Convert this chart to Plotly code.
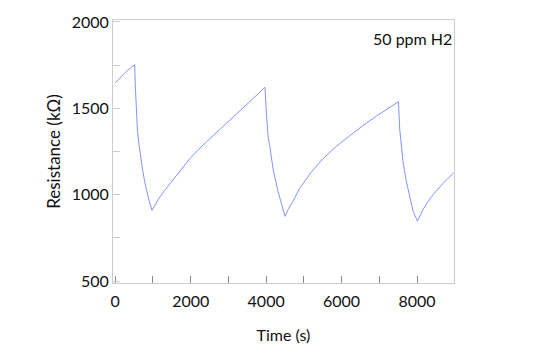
import plotly.graph_objects as go

time_s = [0, 130, 260, 390, 514,
          533, 560, 586, 621, 666, 719, 780, 867, 973,
          1050, 1150, 1250, 1355, 1500, 1700, 1973, 2300, 2681, 3000, 3299, 3640, 3970,
          4006, 4050, 4094, 4182, 4315, 4500,
          4600, 4712, 4890, 5200, 5508, 5863, 6215, 6569, 6924, 7220, 7507,
          7541, 7587, 7629, 7719, 7806, 7894, 8011,
          8080, 8160, 8290, 8425, 8690, 8974]
resistance = [1648, 1678, 1706, 1731, 1752,
              1625, 1473, 1378, 1303, 1227, 1151, 1076, 990, 909,
              941, 976, 1008, 1037, 1080, 1133, 1208, 1282, 1360, 1422, 1483, 1553, 1621,
              1473, 1341, 1284, 1151, 1019, 875,
              922, 962, 1037, 1132, 1208, 1280, 1341, 1401, 1455, 1498, 1538,
              1378, 1265, 1189, 1076, 981, 905, 847,
              883, 915, 960, 1000, 1066, 1127]

x_range = [-60, 8980]
y_range = [489, 2011]
annotation_text = "50 ppm H2"

font_family = "Lato, 'Open Sans', sans-serif"
fsize = 16

fig = go.Figure()
fig.add_trace(go.Scatter(x=time_s, y=resistance, mode="lines",
                         line=dict(color="#8493ff", width=1),
                         showlegend=False, hoverinfo="skip"))

axis_common = dict(showline=True, linecolor="#cccccc", linewidth=1, mirror=True,
                   showgrid=False, zeroline=False,
                   ticks="inside", ticklen=7, tickwidth=1,
                   tickfont=dict(family=font_family, size=fsize, color="#111111"))

fig.update_xaxes(range=x_range, dtick=2000, tick0=0, tickcolor="#888888",
                 ticklabelstandoff=4,
                 minor=dict(dtick=1000, tick0=0, ticks="inside", ticklen=7,
                            tickcolor="#888888", showgrid=False),
                 title=dict(text="Time (s)", font=dict(family=font_family, size=fsize, color="#111111"), standoff=20),
                 **axis_common)
fig.update_yaxes(range=y_range, dtick=500, tick0=500, tickcolor="#cccccc",
                 minor=dict(dtick=250, tick0=500, ticks="inside", ticklen=7,
                            tickcolor="#cccccc", showgrid=False),
                 title=dict(text="Resistance (kΩ)", font=dict(family=font_family, size=17, color="#111111"), standoff=6),
                 **axis_common)

fig.add_annotation(text=annotation_text, xref="paper", yref="paper",
                   x=1, y=0.93, xanchor="right", yanchor="middle",
                   showarrow=False, font=dict(family=font_family, size=fsize, color="#111111"))

fig.update_layout(width=542, height=354,
                  margin=dict(l=113, r=88, t=15, b=71),
                  plot_bgcolor="white", paper_bgcolor="white")

fig.write_html("out.html")
